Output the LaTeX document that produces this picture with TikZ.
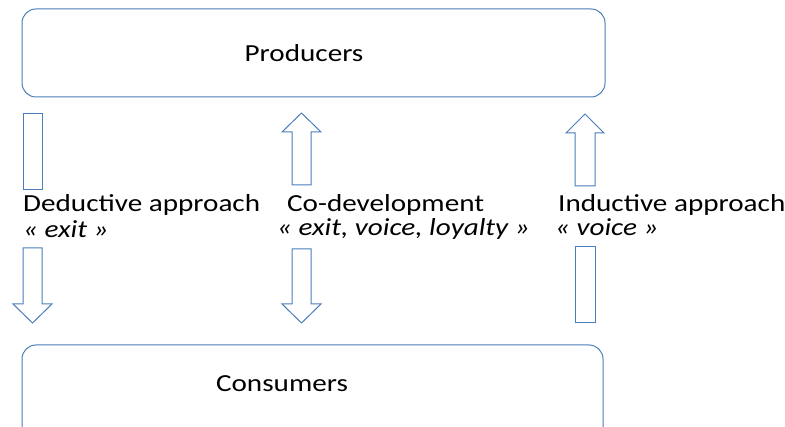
\documentclass[tikz,border=0pt]{standalone}
\usepackage{fontspec}
\setmainfont{Carlito}[FakeStretch=1.19]
\begin{document}
\begin{tikzpicture}[x=1pt,y=-1pt,
  boxstyle/.style={draw=arrowblue, line width=1pt, rounded corners=14pt},
  blockarrow/.style={draw=arrowblue, line width=1pt, line join=miter},
  lbl/.style={anchor=base west, inner sep=0pt, font=\fontsize{24.5}{26}\selectfont},
  boxlbl/.style={anchor=base, inner sep=0pt, font=\fontsize{24.5}{26}\selectfont}]
\definecolor{arrowblue}{HTML}{4A7EBB}
\useasboundingbox (0,0) rectangle (785,427);
\begin{scope}
\clip (0,0) rectangle (785,427);
% boxes
\draw[boxstyle] (22,9) rectangle (605,97);
\node[boxlbl] (prod) at (304,62) {Producers};
\draw[boxstyle] (22,345) rectangle (603,445);
\node[boxlbl] (cons) at (282,392) {Consumers};
\end{scope}
% left: deductive (down)
\draw[blockarrow] (23,114) -- (42,114) -- (42,190) -- (23,190) -- cycle;
\draw[blockarrow] (23,248) -- (42,248) -- (42,304) -- (52,304) -- (32.5,323) -- (13,304) -- (23,304) -- cycle;
% middle: co-development
\draw[blockarrow] (292,185) -- (292,132) -- (282,132) -- (301.5,113) -- (321,132) -- (311,132) -- (311,185) -- cycle;
\draw[blockarrow] (292,249) -- (311,249) -- (311,304) -- (321,304) -- (301.5,323) -- (282,304) -- (292,304) -- cycle;
% right: inductive (up)
\draw[blockarrow] (575,186) -- (575,133) -- (566,133) -- (585,114) -- (604,133) -- (595,133) -- (595,186) -- cycle;
\draw[blockarrow] (575,247) -- (595,247) -- (595,323) -- (575,323) -- cycle;
% labels
\node[lbl] (ded) at (23,212) {Deductive approach};
\node[lbl] (dedi) at (23,238) {\itshape « exit »};
\node[lbl] (cod) at (287,212) {Co-development};
\node[lbl] (codi) at (277,236) {\itshape « exit, voice, loyalty »};
\node[lbl] (ind) at (558,212) {Inductive approach};
\node[lbl] (indi) at (555,236) {\itshape « voice »};
\end{tikzpicture}
\end{document}
